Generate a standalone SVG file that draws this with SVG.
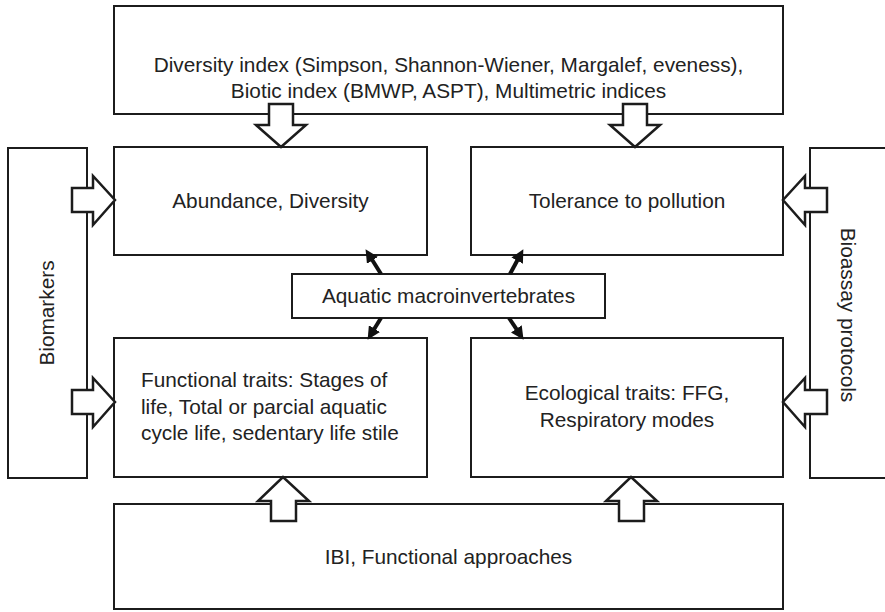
<svg xmlns="http://www.w3.org/2000/svg" width="885" height="612" viewBox="0 0 885 612">
  <style>
    .box { fill: #ffffff; stroke: #1c1c1c; stroke-width: 2; }
    .block { fill: #ffffff; stroke: #1c1c1c; stroke-width: 2.5; stroke-linejoin: miter; }
    .lbl { font-family: "Liberation Sans", Arial, sans-serif; font-size: 20.8px; fill: #222222; text-anchor: middle; }
    .lbl-left { text-anchor: start; }
    .link { stroke: #111111; stroke-width: 4; fill: none; marker-end: url(#head); }
  </style>
  <defs>
    <marker id="head" viewBox="0 0 12 12" refX="2" refY="6" markerWidth="13" markerHeight="13" markerUnits="userSpaceOnUse" orient="auto">
      <path d="M0,0 L12,6 L0,12 z" fill="#111111"/>
    </marker>
  </defs>

  <rect width="885" height="612" fill="#ffffff"/>

  <!-- side panels -->
  <g id="biomarkers">
    <rect class="box" x="8" y="148" width="79" height="330"/>
    <text class="lbl" transform="translate(47,313) rotate(-90)" y="7">Biomarkers</text>
  </g>
  <g id="bioassay">
    <rect class="box" x="810" y="148" width="80" height="330"/>
    <text class="lbl" transform="translate(848,315) rotate(90)" y="7">Bioassay protocols</text>
  </g>

  <!-- index box on top -->
  <g id="indices">
    <rect class="box" x="114" y="6" width="669" height="108"/>
    <text class="lbl" x="448.5" y="72">Diversity index (Simpson, Shannon-Wiener, Margalef, eveness),</text>
    <text class="lbl" x="448.5" y="98">Biotic index (BMWP, ASPT), Multimetric indices</text>
  </g>

  <g id="abundance">
    <rect class="box" x="114" y="147" width="313" height="108"/>
    <text class="lbl" x="270.5" y="208">Abundance, Diversity</text>
  </g>

  <g id="tolerance">
    <rect class="box" x="471" y="147" width="312" height="108"/>
    <text class="lbl" x="627" y="208">Tolerance to pollution</text>
  </g>

  <g id="macroinvertebrates">
    <rect class="box" x="292" y="274" width="313" height="44"/>
    <text class="lbl" x="448.5" y="303">Aquatic macroinvertebrates</text>
  </g>

  <g id="functional">
    <rect class="box" x="114" y="338" width="313" height="139"/>
    <text class="lbl lbl-left" x="141" y="387">Functional traits: Stages of</text>
    <text class="lbl lbl-left" x="141" y="414">life, Total or parcial aquatic</text>
    <text class="lbl lbl-left" x="141" y="440">cycle life, sedentary life stile</text>
  </g>

  <g id="ecological">
    <rect class="box" x="471" y="338" width="312" height="139"/>
    <text class="lbl" x="627" y="400">Ecological traits: FFG,</text>
    <text class="lbl" x="627" y="427">Respiratory modes</text>
  </g>

  <g id="approaches">
    <rect class="box" x="114" y="504" width="669" height="105"/>
    <text class="lbl" x="448.5" y="564">IBI, Functional approaches</text>
  </g>

  <!-- connectors -->
  <g id="connectors">
    <!-- hollow block arrows -->
    <polygon class="block" points="269,104 293,104 293,125 306,125 281,147 256,125 269,125"/>
    <polygon class="block" points="623,104 647,104 647,125 660,125 635,147 610,125 623,125"/>
    <polygon class="block" points="271,521 296,521 296,501 309,501 283,477 258,501 271,501"/>
    <polygon class="block" points="619,521 644,521 644,501 657,501 631,477 606,501 619,501"/>
    <polygon class="block" points="72,188 93,188 93,176 115,200 93,225 93,212 72,212"/>
    <polygon class="block" points="72,390 93,390 93,378 115,402 93,427 93,414 72,414"/>
    <polygon class="block" points="827,188 805,188 805,176 783,200 805,225 805,212 827,212"/>
    <polygon class="block" points="827,390 805,390 805,378 783,402 805,427 805,414 827,414"/>
    <!-- solid arrows from the central box -->
    <line class="link" x1="381" y1="274" x2="371.3" y2="258.5"/>
    <line class="link" x1="510" y1="274" x2="518.2" y2="258.8"/>
    <line class="link" x1="381" y1="318" x2="373.3" y2="330.5"/>
    <line class="link" x1="509" y1="318" x2="517.5" y2="330.7"/>
  </g>
</svg>
